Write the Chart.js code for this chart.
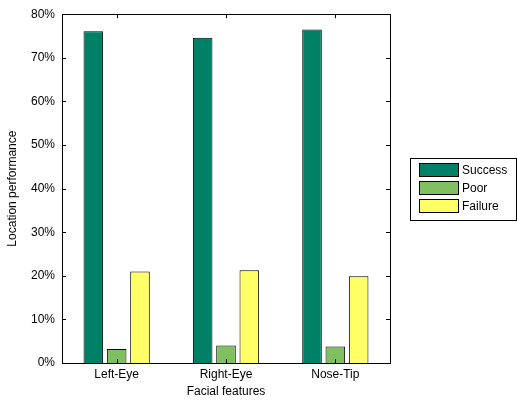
<!DOCTYPE html>
<html>
<head>
<meta charset="utf-8">
<script src="https://cdn.jsdelivr.net/npm/chart.js@4.4.0/dist/chart.umd.min.js"></script>
<style>
  html, body { margin: 0; padding: 0; background: #fff; }
  #wrap { width: 517px; height: 401px; position: relative; }
</style>
</head>
<body>
<div id="wrap"><canvas id="chart"></canvas></div>
<script>
const features = ['Left-Eye', 'Right-Eye', 'Nose-Tip'];
const success = [76.1, 74.6, 76.5];
const poor = [3.2, 4.0, 3.8];
const failure = [21.0, 21.3, 19.9];
const yTicks = [0, 10, 20, 30, 40, 50, 60, 70, 80];

const font = { family: 'Liberation Sans, Arial, Helvetica, sans-serif', size: 12 };

// box around the axes + inward tick marks
const boxPlugin = {
    id: 'box',
    afterDatasetsDraw(chart) {
        const ctx = chart.ctx;
        const a = chart.chartArea;
        const x = chart.scales.x, y = chart.scales.y;
        ctx.save();
        ctx.strokeStyle = '#000';
        ctx.lineWidth = 1;
        ctx.beginPath();
        yTicks.forEach(v => {
            const py = Math.round(y.getPixelForValue(v)) + 0.5;
            ctx.moveTo(a.left, py); ctx.lineTo(a.left + 4, py);
            ctx.moveTo(a.right, py); ctx.lineTo(a.right - 4, py);
        });
        features.forEach((f, i) => {
            const px = Math.round(x.getPixelForValue(i)) + 0.5;
            ctx.moveTo(px, a.bottom); ctx.lineTo(px, a.bottom - 4);
            ctx.moveTo(px, a.top); ctx.lineTo(px, a.top + 4);
        });
        ctx.stroke();
        ctx.strokeRect(Math.round(a.left) + 0.5, Math.round(a.top) + 0.5,
            Math.round(a.right - a.left), Math.round(a.bottom - a.top));
        ctx.restore();
    }
};

// legend box at the right, like the original
const legendPlugin = {
    id: 'boxLegend',
    afterDraw(chart) {
        const ctx = chart.ctx;
        const a = chart.chartArea;
        const bx = a.right + 20, by = 158, bw = 106, bh = 62;
        ctx.save();
        ctx.fillStyle = '#fff';
        ctx.fillRect(bx, by, bw, bh);
        ctx.strokeStyle = '#000';
        ctx.lineWidth = 1;
        ctx.strokeRect(bx + 0.5, by + 0.5, bw, bh);
        ctx.font = font.size + 'px ' + font.family;
        ctx.textBaseline = 'middle';
        chart.data.datasets.forEach((ds, i) => {
            const ry = by + 5 + i * 18;
            ctx.fillStyle = ds.backgroundColor;
            ctx.fillRect(bx + 9, ry, 39, 13);
            ctx.strokeStyle = '#000';
            ctx.strokeRect(bx + 9.5, ry + 0.5, 39, 13);
            ctx.fillStyle = '#000';
            ctx.fillText(ds.label, bx + 52, ry + 7.5);
        });
        ctx.restore();
    }
};

new Chart(document.getElementById('chart'), {
    type: 'bar',
    data: {
        labels: features,
        datasets: [
            { label: 'Success', data: success, backgroundColor: '#008066' },
            { label: 'Poor', data: poor, backgroundColor: '#80c060' },
            { label: 'Failure', data: failure, backgroundColor: '#ffff66' }
        ]
    },
    options: {
        responsive: true,
        maintainAspectRatio: false,
        animation: false,
        events: [],
        layout: { padding: { left: 3, right: 127, top: 13, bottom: 0 } },
        datasets: {
            bar: {
                borderColor: '#000',
                borderWidth: 1,
                categoryPercentage: 0.64,
                barPercentage: 0.84
            }
        },
        plugins: {
            legend: { display: false },
            tooltip: { enabled: false }
        },
        scales: {
            x: {
                offset: true,
                grid: { display: false, drawTicks: false },
                border: { display: false },
                ticks: { color: '#000', font: font, padding: 4 },
                title: { display: true, text: 'Facial features', color: '#000', font: font, padding: { top: 0, bottom: 2 } },
                afterFit(s) { s.height = 38; }
            },
            y: {
                min: 0, max: 80,
                grid: { display: false, drawTicks: false },
                border: { display: false },
                afterBuildTicks(s) { s.ticks = yTicks.map(v => ({ value: v })); },
                ticks: { color: '#000', font: font, padding: 7, callback: v => v + '%' },
                title: { display: true, text: 'Location performance', color: '#000', font: font, padding: { top: 2, bottom: 0 } },
                afterFit(s) { s.width = 59; }
            }
        }
    },
    plugins: [boxPlugin, legendPlugin]
});
</script>
</body>
</html>
